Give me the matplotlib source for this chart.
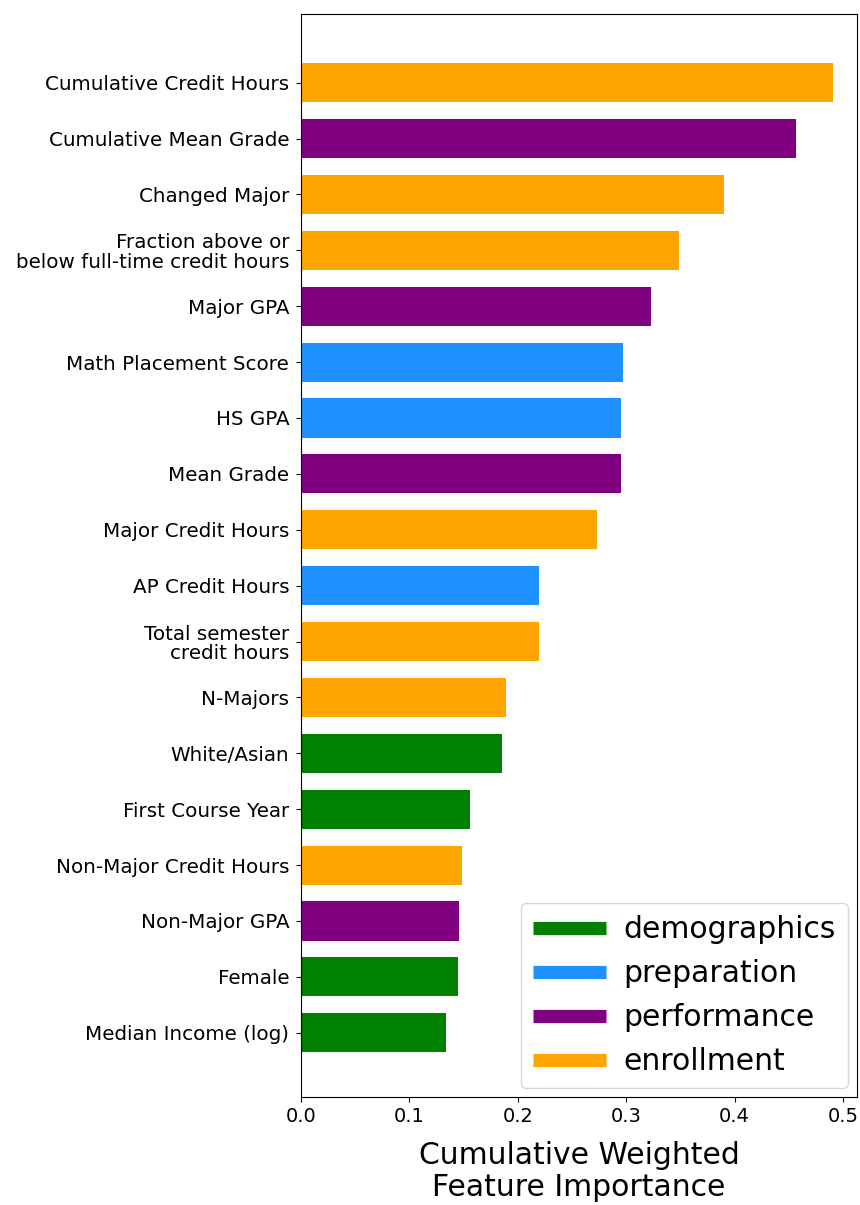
import matplotlib.pyplot as plt
from matplotlib.lines import Line2D

# features listed top to bottom
features = [
    "Cumulative Credit Hours",
    "Cumulative Mean Grade",
    "Changed Major",
    "Fraction above or\nbelow full-time credit hours",
    "Major GPA",
    "Math Placement Score",
    "HS GPA",
    "Mean Grade",
    "Major Credit Hours",
    "AP Credit Hours",
    "Total semester\ncredit hours",
    "N-Majors",
    "White/Asian",
    "First Course Year",
    "Non-Major Credit Hours",
    "Non-Major GPA",
    "Female",
    "Median Income (log)",
]
importance = [0.491, 0.457, 0.390, 0.349, 0.323, 0.297, 0.295, 0.295, 0.273,
              0.220, 0.220, 0.189, 0.185, 0.156, 0.149, 0.146, 0.145, 0.134]
groups = ["enrollment", "performance", "enrollment", "enrollment", "performance",
          "preparation", "preparation", "performance", "enrollment", "preparation",
          "enrollment", "enrollment", "demographics", "demographics", "enrollment",
          "performance", "demographics", "demographics"]

group_names = ["demographics", "preparation", "performance", "enrollment"]
group_colors = {"demographics": "green", "preparation": "dodgerblue",
                "performance": "purple", "enrollment": "orange"}

fig, ax = plt.subplots(figsize=(8.6, 12.05), dpi=100)
fig.subplots_adjust(left=0.35, right=0.9965, top=0.988, bottom=0.0896)

n = len(features)
ypos = [n - 1 - i for i in range(n)]
ax.barh(ypos, importance, height=0.7, color=[group_colors[g] for g in groups])

ax.set_yticks(ypos)
ax.set_yticklabels(features, fontsize=14.3, linespacing=1.05)
ax.tick_params(axis='y', pad=5)
ax.tick_params(axis='x', labelsize=14)
ax.set_xlim(0, 0.513)
ax.set_ylim(-1.15, n - 1 + 1.22)
ax.set_xlabel("Cumulative Weighted\nFeature Importance", fontsize=21.5,
              linespacing=1.15, labelpad=11)

handles = [Line2D([0], [0], color=group_colors[g], lw=9.5, solid_capstyle='butt')
           for g in group_names]
ax.legend(handles, group_names, loc='lower right', fontsize=21.5,
          handlelength=2.45, handletextpad=0.6, borderaxespad=0.3)

fig.savefig("out.png")
